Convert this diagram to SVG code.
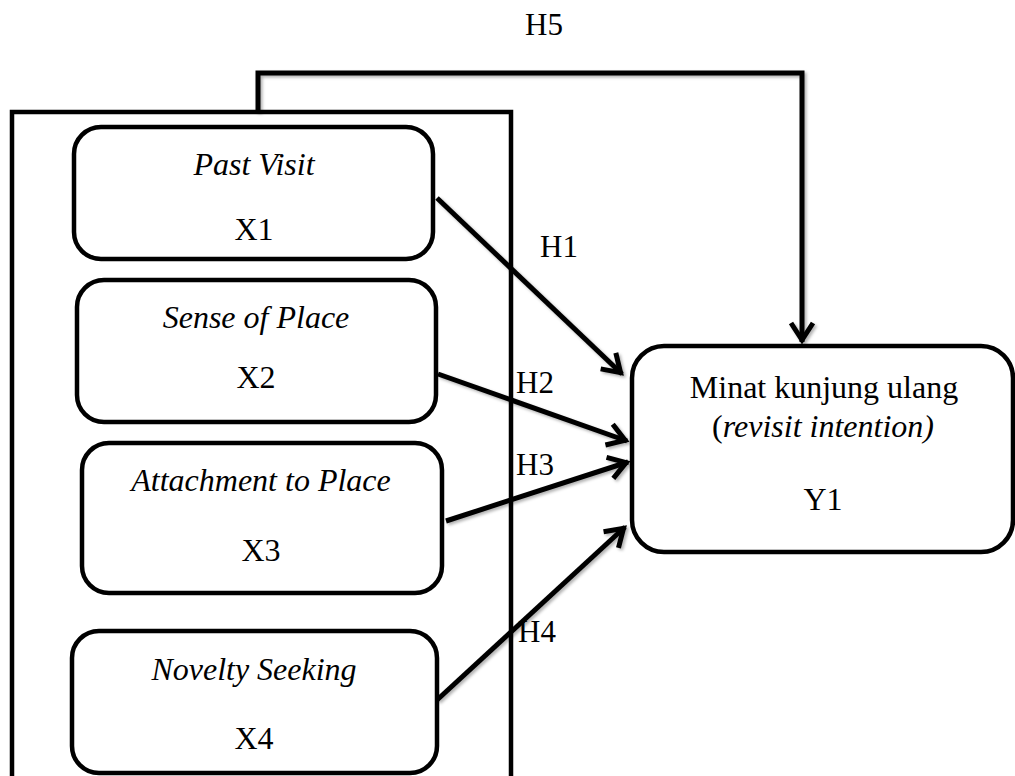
<svg xmlns="http://www.w3.org/2000/svg" width="1015" height="776" viewBox="0 0 1015 776">
  <style>
    .box { fill: #fff; stroke: #000; stroke-width: 4.5; }
    .frame { fill: none; stroke: #000; stroke-width: 4.5; }
    .conn { fill: none; stroke: #000; stroke-width: 5; }
    .t { font-family: "Liberation Serif", "Times New Roman", serif; font-size: 32px; fill: #000; text-anchor: middle; }
    .i { font-style: italic; }
    .lbl { font-family: "Liberation Serif", "Times New Roman", serif; font-size: 31px; fill: #000; text-anchor: middle; }
  </style>
  <defs>
    <marker id="arr" markerUnits="userSpaceOnUse" orient="auto" overflow="visible" markerWidth="30" markerHeight="30" refX="0" refY="0">
      <path d="M-19,-11 L-2,0 L-19,11" fill="none" stroke="#000" stroke-width="5" stroke-linejoin="miter"/>
    </marker>
    <filter id="sh" x="-10%" y="-10%" width="120%" height="120%">
      <feDropShadow dx="2" dy="2" stdDeviation="1.5" flood-color="#000" flood-opacity="0.3"/>
    </filter>
  </defs>
  <rect width="1015" height="776" fill="#fff"/>

  <g id="frame">
    <path class="frame" d="M12,780 V112 H511 V780"/>
  </g>

  <g id="connectors" filter="url(#sh)">
    <path class="conn" d="M258,112 V73 H802 V342" marker-end="url(#arr)"/>
    <path class="conn" d="M437,198 L622,374" marker-end="url(#arr)"/>
    <path class="conn" d="M438,374 L627,441" marker-end="url(#arr)"/>
    <path class="conn" d="M446,521 L628,462" marker-end="url(#arr)"/>
    <path class="conn" d="M437,700 L625,527" marker-end="url(#arr)"/>
  </g>

  <g id="labels">
    <text class="lbl" x="544" y="35">H5</text>
    <text class="lbl" x="559" y="257">H1</text>
    <text class="lbl" x="535" y="393">H2</text>
    <text class="lbl" x="535" y="475">H3</text>
    <text class="lbl" x="537" y="642">H4</text>
  </g>

  <g id="x1">
    <rect class="box" x="74" y="127" width="359" height="132" rx="27"/>
    <text class="t i" x="254" y="175">Past Visit</text>
    <text class="t" x="254" y="240">X1</text>
  </g>
  <g id="x2">
    <rect class="box" x="77" y="280" width="359" height="142" rx="27"/>
    <text class="t i" x="256" y="328">Sense of Place</text>
    <text class="t" x="256" y="388">X2</text>
  </g>
  <g id="x3">
    <rect class="box" x="82" y="443" width="360" height="150" rx="27"/>
    <text class="t i" x="261" y="491">Attachment to Place</text>
    <text class="t" x="261" y="561">X3</text>
  </g>
  <g id="x4">
    <rect class="box" x="72" y="631" width="365" height="142" rx="27"/>
    <text class="t i" x="254" y="680">Novelty Seeking</text>
    <text class="t" x="254" y="749">X4</text>
  </g>
  <g id="y1">
    <rect class="box" x="632" y="346" width="381" height="206" rx="32"/>
    <text class="t" x="824" y="398">Minat kunjung ulang</text>
    <text class="t" x="823" y="437">(<tspan class="i">revisit intention)</tspan></text>
    <text class="t" x="823" y="510">Y1</text>
  </g>
</svg>
